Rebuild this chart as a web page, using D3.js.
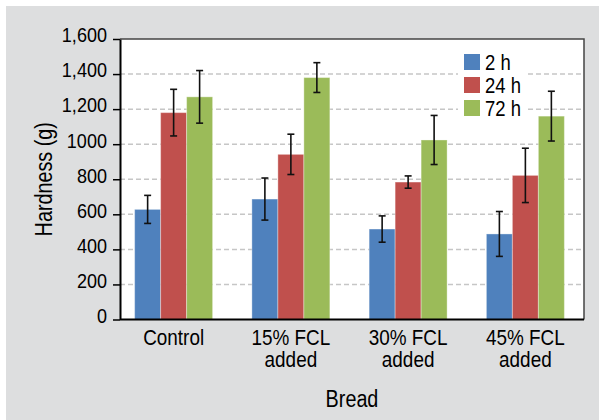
<!DOCTYPE html>
<html>
<head>
<meta charset="utf-8">
<script src="https://cdn.jsdelivr.net/npm/d3@7"></script>
<style>
  body { margin: 0; background: #fff; }
  svg { display: block; font-family: "Liberation Sans", Arial, sans-serif; }
</style>
</head>
<body>
<div id="chart"></div>
<script>
// data
var categories = ["Control", "15% FCL|added", "30% FCL|added", "45% FCL|added"];
var seriesNames = ["2 h", "24 h", "72 h"];
var means = [
    [628, 687, 516, 488],     // 2 h
    [1180, 942, 784, 822],    // 24 h
    [1270, 1380, 1024, 1160]  // 72 h
];
var errors = [
    [80, 120, 75, 128],
    [133, 115, 35, 155],
    [150, 85, 140, 142]
];
var yTicks = [0, 200, 400, 600, 800, 1000, 1200, 1400, 1600];
var yTickLabels = ["0", "200", "400", "600", "800", "1000", "1,200", "1,400", "1,600"];
var colors = ["#4f81bd", "#c0504d", "#9bbb59"];

var W = 599, H = 420;
var plot = { left: 120, right: 584, top: 39, bottom: 319.5 };
var sx = 0.86; // condensed look of the original font

var svg = d3.select("#chart").append("svg")
    .attr("width", W).attr("height", H);

// gray panel
svg.append("rect")
    .attr("x", 6).attr("y", 6)
    .attr("width", W - 6).attr("height", H - 6)
    .attr("fill", "#dddedf");

// plot area
svg.append("rect")
    .attr("x", plot.left).attr("y", plot.top)
    .attr("width", plot.right - plot.left).attr("height", plot.bottom - plot.top)
    .attr("fill", "#fff");

var y = d3.scaleLinear().domain([0, 1600]).range([plot.bottom, plot.top]);
var x0 = d3.scaleBand().domain(categories).range([plot.left - 5, plot.right]).paddingInner(0.335).paddingOuter(0.1675);
var x1 = d3.scaleBand().domain(seriesNames).range([0, x0.bandwidth()]);

// grid lines
svg.append("g").selectAll("line")
    .data(yTicks.filter(function (d) { return d > 0 && d < 1600; }))
    .enter().append("line")
    .attr("x1", plot.left).attr("x2", plot.right)
    .attr("y1", function (d) { return y(d); })
    .attr("y2", function (d) { return y(d); })
    .attr("stroke", "#c6c6c6")
    .attr("stroke-width", 1.5)
    .attr("stroke-dasharray", "5,3");

// legend background (hides the grid behind it)
svg.append("rect")
    .attr("x", 458).attr("y", 48).attr("width", 68).attr("height", 74)
    .attr("fill", "#fff");

// bars
var groups = svg.append("g").selectAll("g")
    .data(categories)
    .enter().append("g")
    .attr("transform", function (d) { return "translate(" + x0(d) + ",0)"; });

groups.selectAll("rect")
    .data(function (d, i) {
        return seriesNames.map(function (s, j) {
            return { s: s, j: j, v: means[j][i], e: errors[j][i] };
        });
    })
    .enter().append("rect")
    .attr("x", function (d) { return x1(d.s); })
    .attr("y", function (d) { return y(d.v); })
    .attr("width", x1.bandwidth())
    .attr("height", function (d) { return y(0) - y(d.v); })
    .attr("fill", function (d) { return colors[d.j]; })
    .attr("stroke", "rgba(255,255,255,0.35)")
    .attr("stroke-width", 1);

// error bars
var eb = groups.selectAll("g.err")
    .data(function (d, i) {
        return seriesNames.map(function (s, j) {
            return { s: s, v: means[j][i], e: errors[j][i] };
        });
    })
    .enter().append("g").attr("class", "err")
    .attr("stroke", "#111").attr("stroke-width", 1.6);
eb.append("line")
    .attr("x1", function (d) { return x1(d.s) + x1.bandwidth() / 2; })
    .attr("x2", function (d) { return x1(d.s) + x1.bandwidth() / 2; })
    .attr("y1", function (d) { return y(d.v + d.e); })
    .attr("y2", function (d) { return y(d.v - d.e); });
eb.append("line")
    .attr("x1", function (d) { return x1(d.s) + x1.bandwidth() / 2 - 3.5; })
    .attr("x2", function (d) { return x1(d.s) + x1.bandwidth() / 2 + 3.5; })
    .attr("y1", function (d) { return y(d.v + d.e); })
    .attr("y2", function (d) { return y(d.v + d.e); });
eb.append("line")
    .attr("x1", function (d) { return x1(d.s) + x1.bandwidth() / 2 - 3.5; })
    .attr("x2", function (d) { return x1(d.s) + x1.bandwidth() / 2 + 3.5; })
    .attr("y1", function (d) { return y(d.v - d.e); })
    .attr("y2", function (d) { return y(d.v - d.e); });

// frame top and right
svg.append("path")
    .attr("d", "M" + plot.left + "," + plot.top + "H" + plot.right + "V" + plot.bottom)
    .attr("fill", "none").attr("stroke", "#444").attr("stroke-width", 1.5);

// y axis
var yAxis = svg.append("g")
    .attr("transform", "translate(" + plot.left + ",0)")
    .call(d3.axisLeft(y).tickValues(yTicks)
        .tickFormat(function (d, i) { return yTickLabels[i]; })
        .tickSize(7).tickSizeOuter(0));
yAxis.select(".domain").attr("stroke", "#000").attr("stroke-width", 2);
yAxis.selectAll(".tick line").attr("stroke", "#000").attr("stroke-width", 1.5);
yAxis.selectAll(".tick text")
    .attr("font-size", 21)
    .attr("fill", "#000")
    .attr("x", -13 / sx)
    .attr("y", -4.5)
    .attr("dy", "0.35em")
    .attr("transform", "scale(" + sx + ",1)");

// x axis
var xAxis = svg.append("g")
    .attr("transform", "translate(0," + plot.bottom + ")")
    .call(d3.axisBottom(x0).tickSize(0).tickSizeOuter(0));
xAxis.select(".domain")
    .attr("d", "M" + plot.left + ",0H" + plot.right)
    .attr("stroke", "#000").attr("stroke-width", 2);
xAxis.selectAll(".tick text").each(function (d) {
    var t = d3.select(this);
    t.text(null)
        .attr("font-size", 22)
        .attr("fill", "#000")
        .attr("y", 25.5)
        .attr("dy", null)
        .attr("transform", "scale(" + sx + ",1)");
    d.split("|").forEach(function (line, k) {
        t.append("tspan").attr("x", 0).attr("dy", k === 0 ? 0 : 22.5).text(line);
    });
});

// legend
var legend = svg.append("g").selectAll("g")
    .data(seriesNames)
    .enter().append("g")
    .attr("transform", function (d, i) { return "translate(464," + (54 + i * 23) + ")"; });
legend.append("rect")
    .attr("width", 16).attr("height", 16)
    .attr("fill", function (d, i) { return colors[i]; });
legend.append("text")
    .attr("transform", "translate(21,16) scale(" + sx + ",1)")
    .attr("font-size", 21.5)
    .attr("fill", "#000")
    .text(function (d) { return d; });

// axis titles
svg.append("text")
    .attr("transform", "translate(" + ((plot.left + plot.right) / 2) + ",406.5) scale(" + sx + ",1)")
    .attr("text-anchor", "middle")
    .attr("font-size", 23)
    .text("Bread");
svg.append("text")
    .attr("transform", "translate(52," + ((plot.top + plot.bottom) / 2) + ") rotate(-90) scale(" + sx + ",1)")
    .attr("text-anchor", "middle")
    .attr("font-size", 23)
    .text("Hardness (g)");
</script>
</body>
</html>
